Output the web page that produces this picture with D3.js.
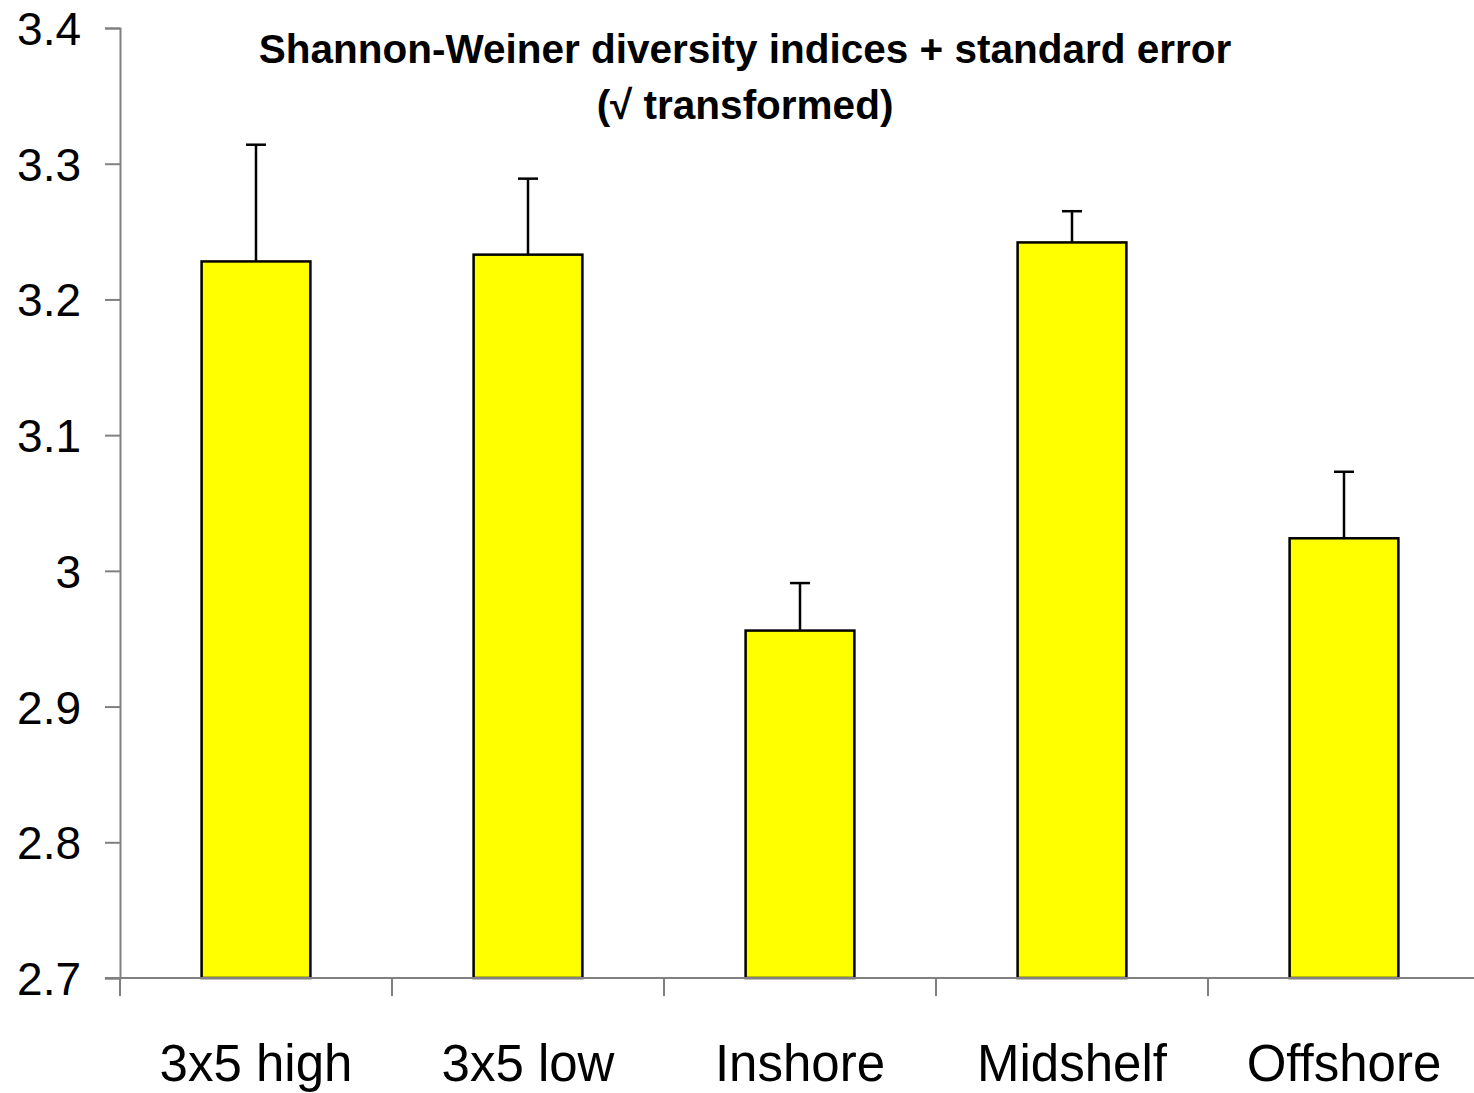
<!DOCTYPE html>
<html>
<head>
<meta charset="UTF-8" />
<title>Shannon-Weiner diversity indices</title>
<script src="https://d3js.org/d3.v7.min.js"></script>
<style>
	body { margin: 0; background: #fff; }
	svg text { font-family: "Liberation Sans", Arial, sans-serif; fill: #000; }
</style>
</head>
<body>
<div id="chart"></div>
<script type="text/javascript">

	var sites = ["3x5 high", "3x5 low", "Inshore", "Midshelf", "Offshore"];
	var means = [3.228, 3.233, 2.956, 3.242, 3.024];
	var stdErr = [0.086, 0.056, 0.035, 0.023, 0.049];
	var yTicks = [2.7, 2.8, 2.9, 3.0, 3.1, 3.2, 3.3, 3.4];

	var width = 1474, height = 1093;
	var plotLeft = 120, plotRight = 1480, plotTop = 28, plotBottom = 978;

	var svg = d3.select("div#chart")
		.append("svg")
			.attr("width", width)
			.attr("height", height);

	var x = d3.scaleBand()
		.domain(sites)
		.range([plotLeft, plotRight])
		.paddingInner(0.6)
		.paddingOuter(0.3);

	var y = d3.scaleLinear()
		.domain([2.7, 3.4])
		.range([plotBottom, plotTop]);

	// bars
	svg.selectAll("rect.bar")
		.data(sites)
		.enter()
		.append("rect")
			.attr("class", "bar")
			.attr("x", function(d) { return x(d); })
			.attr("y", function(d, i) { return y(means[i]); })
			.attr("width", x.bandwidth())
			.attr("height", function(d, i) { return plotBottom - y(means[i]); })
			.attr("fill", "#ffff00")
			.attr("stroke", "#000")
			.attr("stroke-width", 2.5);

	// error bars (upper only)
	var err = svg.selectAll("g.err")
		.data(sites)
		.enter()
		.append("g")
			.attr("class", "err");
	err.append("line")
		.attr("x1", function(d) { return x(d) + x.bandwidth() / 2; })
		.attr("x2", function(d) { return x(d) + x.bandwidth() / 2; })
		.attr("y1", function(d, i) { return y(means[i]); })
		.attr("y2", function(d, i) { return y(means[i] + stdErr[i]); })
		.attr("stroke", "#000")
		.attr("stroke-width", 2.5);
	err.append("line")
		.attr("x1", function(d) { return x(d) + x.bandwidth() / 2 - 10; })
		.attr("x2", function(d) { return x(d) + x.bandwidth() / 2 + 10; })
		.attr("y1", function(d, i) { return y(means[i] + stdErr[i]); })
		.attr("y2", function(d, i) { return y(means[i] + stdErr[i]); })
		.attr("stroke", "#000")
		.attr("stroke-width", 2.5);

	// y axis
	var yAxis = svg.append("g")
		.attr("transform", "translate(" + plotLeft + ",0)")
		.call(d3.axisLeft(y)
			.tickValues(yTicks)
			.tickSize(15)
			.tickPadding(24)
			.tickFormat(function(d) { return d3.format("")(+d.toFixed(1)); }));
	yAxis.select(".domain").attr("stroke", "#808080").attr("stroke-width", 2);
	yAxis.selectAll(".tick line").attr("stroke", "#808080").attr("stroke-width", 2);
	yAxis.selectAll(".tick text")
		.style("font-size", "46px")
		.attr("dy", "0.36em")
		.attr("fill", "#000");

	// x axis
	var xAxis = svg.append("g")
		.attr("transform", "translate(0," + plotBottom + ")");
	xAxis.append("line")
		.attr("x1", plotLeft - 15)
		.attr("x2", width)
		.attr("y1", 0)
		.attr("y2", 0)
		.attr("stroke", "#808080")
		.attr("stroke-width", 2);
	var xTicks = sites.map(function(d) { return x(d) - x.step() * x.paddingInner() / 2; });
	xAxis.selectAll("line.xt")
		.data(xTicks)
		.enter()
		.append("line")
			.attr("class", "xt")
			.attr("x1", function(d) { return d; })
			.attr("x2", function(d) { return d; })
			.attr("y1", 0)
			.attr("y2", 18)
			.attr("stroke", "#808080")
			.attr("stroke-width", 2);
	xAxis.selectAll("text.xl")
		.data(sites)
		.enter()
		.append("text")
			.attr("class", "xl")
			.attr("x", function(d) { return x(d) + x.bandwidth() / 2; })
			.attr("y", 103)
			.attr("text-anchor", "middle")
			.style("font-size", "51px")
			.text(function(d) { return d; });

	// title
	var title = svg.append("text")
		.attr("x", 745)
		.attr("y", 63)
		.attr("text-anchor", "middle")
		.style("font-size", "40.5px")
		.style("font-weight", "bold");
	title.append("tspan").attr("x", 745).text("Shannon-Weiner diversity indices + standard error");
	title.append("tspan").attr("x", 745).attr("dy", 56).text("(\u221A transformed)");

</script>
</body>
</html>
